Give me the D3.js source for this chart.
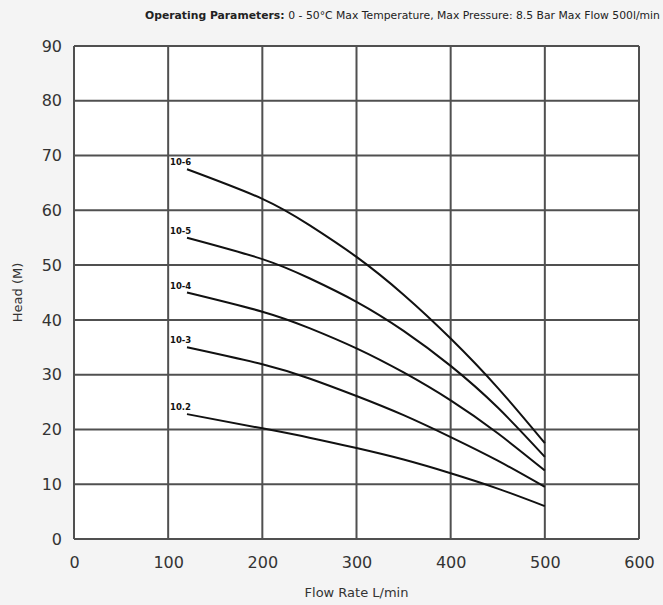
<!DOCTYPE html>
<html><head><meta charset="utf-8">
<script src="https://cdn.jsdelivr.net/npm/d3@7"></script>
<style>
body{margin:0;background:#f4f4f4;}
svg{display:block;}
</style></head>
<body>
<svg id="c" width="663" height="605"></svg>
<script>
const flow = [120, 200, 250, 300, 350, 400, 450, 500];
const s106 = [67.5, 62.1, 57.3, 51.5, 44.6, 36.6, 27.6, 17.5];
const s105 = [55, 51.1, 47.6, 43.3, 38.0, 31.6, 24.0, 15];
const s104 = [45, 41.5, 38.5, 34.8, 30.4, 25.3, 19.3, 12.5];
const s103 = [35, 31.9, 29.3, 26.1, 22.6, 18.6, 14.3, 9.5];
const s102 = [22.8, 20.2, 18.5, 16.6, 14.5, 12.0, 9.2, 6];
const seriesNames = ["10-6", "10-5", "10-4", "10-3", "10.2"];
const seriesVals = [s106, s105, s104, s103, s102];
const xTicks = [0, 100, 200, 300, 400, 500, 600];
const yTicks = [0, 10, 20, 30, 40, 50, 60, 70, 80, 90];

const svg = d3.select("#c");
const L = 74, R = 639, T = 46, B = 539;
const x = d3.scaleLinear().domain([0, 600]).range([L, R]);
const y = d3.scaleLinear().domain([0, 90]).range([B, T]);

svg.append("rect").attr("x", L).attr("y", T).attr("width", R - L).attr("height", B - T).attr("fill", "#fff");

const grid = svg.append("g").attr("stroke", "#505050").attr("stroke-width", 2);
xTicks.forEach(v => grid.append("line").attr("x1", x(v)).attr("x2", x(v)).attr("y1", T).attr("y2", B));
yTicks.forEach(v => grid.append("line").attr("x1", L).attr("x2", R).attr("y1", y(v)).attr("y2", y(v)));

const font = "DejaVu Sans, Verdana, sans-serif";
const xa = svg.append("g").attr("transform", `translate(0,${B})`)
  .call(d3.axisBottom(x).tickValues(xTicks).tickSize(0).tickPadding(18).tickFormat(d3.format("d")));
xa.select(".domain").remove();
xa.selectAll("text").attr("font-family", font).attr("font-size", 16).attr("fill", "#333");
const ya = svg.append("g").attr("transform", `translate(${L},0)`)
  .call(d3.axisLeft(y).tickValues(yTicks).tickSize(0).tickPadding(12).tickFormat(d3.format("d")));
ya.select(".domain").remove();
ya.selectAll("text").attr("font-family", font).attr("font-size", 16).attr("fill", "#333");

const line = d3.line().x((d, i) => x(flow[i])).y(d => y(d)).curve(d3.curveNatural);
seriesVals.forEach((vals, k) => {
  svg.append("path").attr("d", line(vals)).attr("fill", "none").attr("stroke", "#111").attr("stroke-width", 2);
  svg.append("text").attr("x", x(flow[0]) - 17).attr("y", y(vals[0]) - 4)
    .attr("font-family", font).attr("font-size", 8.5).attr("font-weight", "bold").attr("fill", "#111")
    .text(seriesNames[k]);
});

svg.append("text").attr("x", (L + R) / 2).attr("y", 597).attr("text-anchor", "middle")
  .attr("font-family", font).attr("font-size", 13).attr("fill", "#333").text("Flow Rate L/min");
svg.append("text").attr("transform", `translate(22,${(T + B) / 2}) rotate(-90)`).attr("text-anchor", "middle")
  .attr("font-family", font).attr("font-size", 13).attr("fill", "#333").text("Head (M)");

const title = svg.append("text").attr("x", 145).attr("y", 19).attr("font-family", font).attr("font-size", 10.8).attr("fill", "#222");
title.append("tspan").attr("font-weight", "bold").text("Operating Parameters: ");
title.append("tspan").text("0 - 50°C Max Temperature, Max Pressure: 8.5 Bar Max Flow 500l/min");
</script>
</body></html>
